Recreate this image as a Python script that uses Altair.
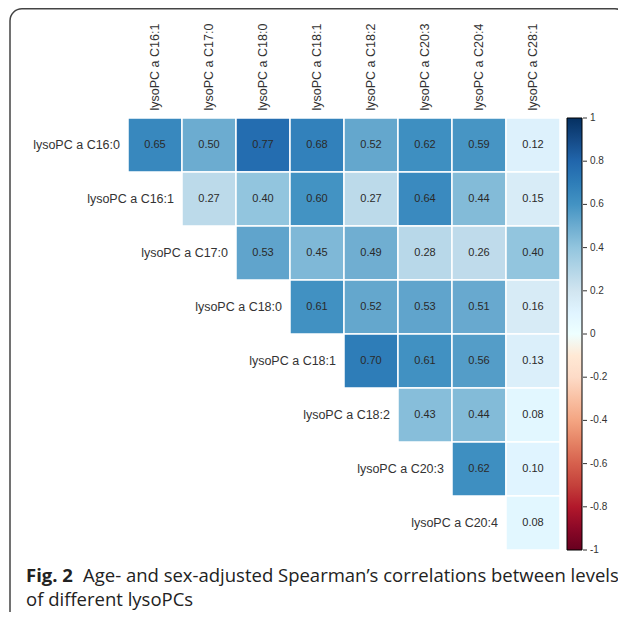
import altair as alt
import pandas as pd

cols = ["lysoPC a C16:1", "lysoPC a C17:0", "lysoPC a C18:0", "lysoPC a C18:1",
        "lysoPC a C18:2", "lysoPC a C20:3", "lysoPC a C20:4", "lysoPC a C28:1"]
rows = ["lysoPC a C16:0", "lysoPC a C16:1", "lysoPC a C17:0", "lysoPC a C18:0",
        "lysoPC a C18:1", "lysoPC a C18:2", "lysoPC a C20:3", "lysoPC a C20:4"]

r0 = [0.65, 0.50, 0.77, 0.68, 0.52, 0.62, 0.59, 0.12]
r1 = [0.27, 0.40, 0.60, 0.27, 0.64, 0.44, 0.15]
r2 = [0.53, 0.45, 0.49, 0.28, 0.26, 0.40]
r3 = [0.61, 0.52, 0.53, 0.51, 0.16]
r4 = [0.70, 0.61, 0.56, 0.13]
r5 = [0.43, 0.44, 0.08]
r6 = [0.62, 0.10]
r7 = [0.08]
upper = [r0, r1, r2, r3, r4, r5, r6, r7]

bar_ticks = [1, 0.8, 0.6, 0.4, 0.2, 0, -0.2, -0.4, -0.6, -0.8, -1]
bar_labels = ["1", "0.8", "0.6", "0.4", "0.2", "0", "-0.2", "-0.4", "-0.6", "-0.8", "-1"]

stops = [-1, -0.8, -0.6, -0.4, -0.2, 0, 0.2, 0.4, 0.6, 0.8, 1]
palette = ["#67001F", "#B2182B", "#D6604D", "#F4A582", "#FDDBC7", "#FFFFFF",
           "#D1E5F0", "#92C5DE", "#4393C3", "#2166AC", "#053061"]

cap_bold = "Fig. 2"
cap_rest = "Age- and sex-adjusted Spearman\u2019s correlations between levels"
cap_line2 = "of different lysoPCs"

recs = []
for i, vals in enumerate(upper):
    for k, v in enumerate(vals):
        recs.append({"row": rows[i], "col": cols[i + k], "r": v, "lab": f"{v:.2f}"})
cells = pd.DataFrame(recs)
diag = pd.DataFrame({"row": rows, "diag": cols})
bar = pd.DataFrame({"v": bar_ticks, "lab": bar_labels})

W = 432
H = 432
FONT = "Liberation Sans"

xs = alt.Scale(domain=cols, paddingInner=0, paddingOuter=0)
ys = alt.Scale(domain=rows, paddingInner=0, paddingOuter=0)

heat = alt.Chart(cells).mark_rect(stroke="white", strokeWidth=1.5).encode(
    x=alt.X("col:N", scale=xs, sort=cols,
            axis=alt.Axis(orient="top", title=None, labelAngle=270, labelAlign="left",
                          labelBaseline="middle", labelPadding=8, ticks=False, domain=False,
                          labelFont=FONT, labelFontSize=12.5, labelColor="#333333",
                          labelLimit=200)),
    y=alt.Y("row:N", scale=ys, sort=rows, axis=None),
    color=alt.Color("r:Q", scale=alt.Scale(domain=stops, range=palette),
                    legend=alt.Legend(orient="none", legendX=W + 7, legendY=0, direction="vertical",
                                      gradientLength=H, gradientThickness=15, title=None,
                                      gradientStrokeColor="#000000", gradientStrokeWidth=1,
                                      labelExpr="''", labelOpacity=0, padding=0)),
)

cell_text = alt.Chart(cells).mark_text(font=FONT, fontSize=11, color="#2a2a2a").encode(
    x=alt.X("col:N", scale=xs, sort=cols),
    y=alt.Y("row:N", scale=ys, sort=rows, axis=None),
    text="lab:N",
)

row_text = alt.Chart(diag).mark_text(font=FONT, fontSize=12.5, color="#333333", align="right",
                                     baseline="middle", dx=-8).encode(
    x=alt.X("diag:N", scale=xs, sort=cols, bandPosition=0),
    y=alt.Y("row:N", scale=ys, sort=rows, axis=None),
    text="row:N",
)

ticks = alt.Chart(bar).mark_rule(color="#333333", strokeWidth=1).encode(
    x=alt.value(W + 23), x2=alt.value(W + 27),
    y=alt.Y("v:Q", scale=alt.Scale(domain=[-1, 1], nice=False, zero=False), axis=None),
)
tick_text = alt.Chart(bar).mark_text(font=FONT, fontSize=10, color="#333333", align="left",
                                     baseline="middle").encode(
    x=alt.value(W + 30),
    y=alt.Y("v:Q", scale=alt.Scale(domain=[-1, 1], nice=False, zero=False), axis=None),
    text="lab:N",
)

one = alt.Data(values=[{"a": 1}])
border = alt.Chart(one).mark_rect(fill=None, stroke="#444444", strokeWidth=1.5, cornerRadius=12).encode(
    x=alt.value(-118), x2=alt.value(W + 67),
    y=alt.value(-109.25), y2=alt.value(H + 76),
)

cap1 = alt.Chart(one).mark_text(font="Open Sans", fontSize=18.5, fontWeight="bold", color="#222222",
                                align="left", baseline="alphabetic", text=cap_bold).encode(
    x=alt.value(-102), y=alt.value(H + 32))
cap2 = alt.Chart(one).mark_text(font="Open Sans", fontSize=18.5, color="#222222",
                                align="left", baseline="alphabetic", text=cap_rest).encode(
    x=alt.value(-45), y=alt.value(H + 32))
cap3 = alt.Chart(one).mark_text(font="Open Sans", fontSize=18.5, color="#222222",
                                align="left", baseline="alphabetic", text=cap_line2).encode(
    x=alt.value(-102), y=alt.value(H + 56))

chart = alt.layer(border, heat, cell_text, row_text, ticks, tick_text, cap1, cap2, cap3).resolve_scale(
    y="independent"
).properties(
    width=W, height=H,
    padding={"left": 120, "top": 110, "right": 58, "bottom": 62},
    autosize=alt.AutoSizeParams(type="none"),
    background="white",
).configure_view(stroke=None)

chart.save("out.html", embed_options={"renderer": "svg", "actions": False})
